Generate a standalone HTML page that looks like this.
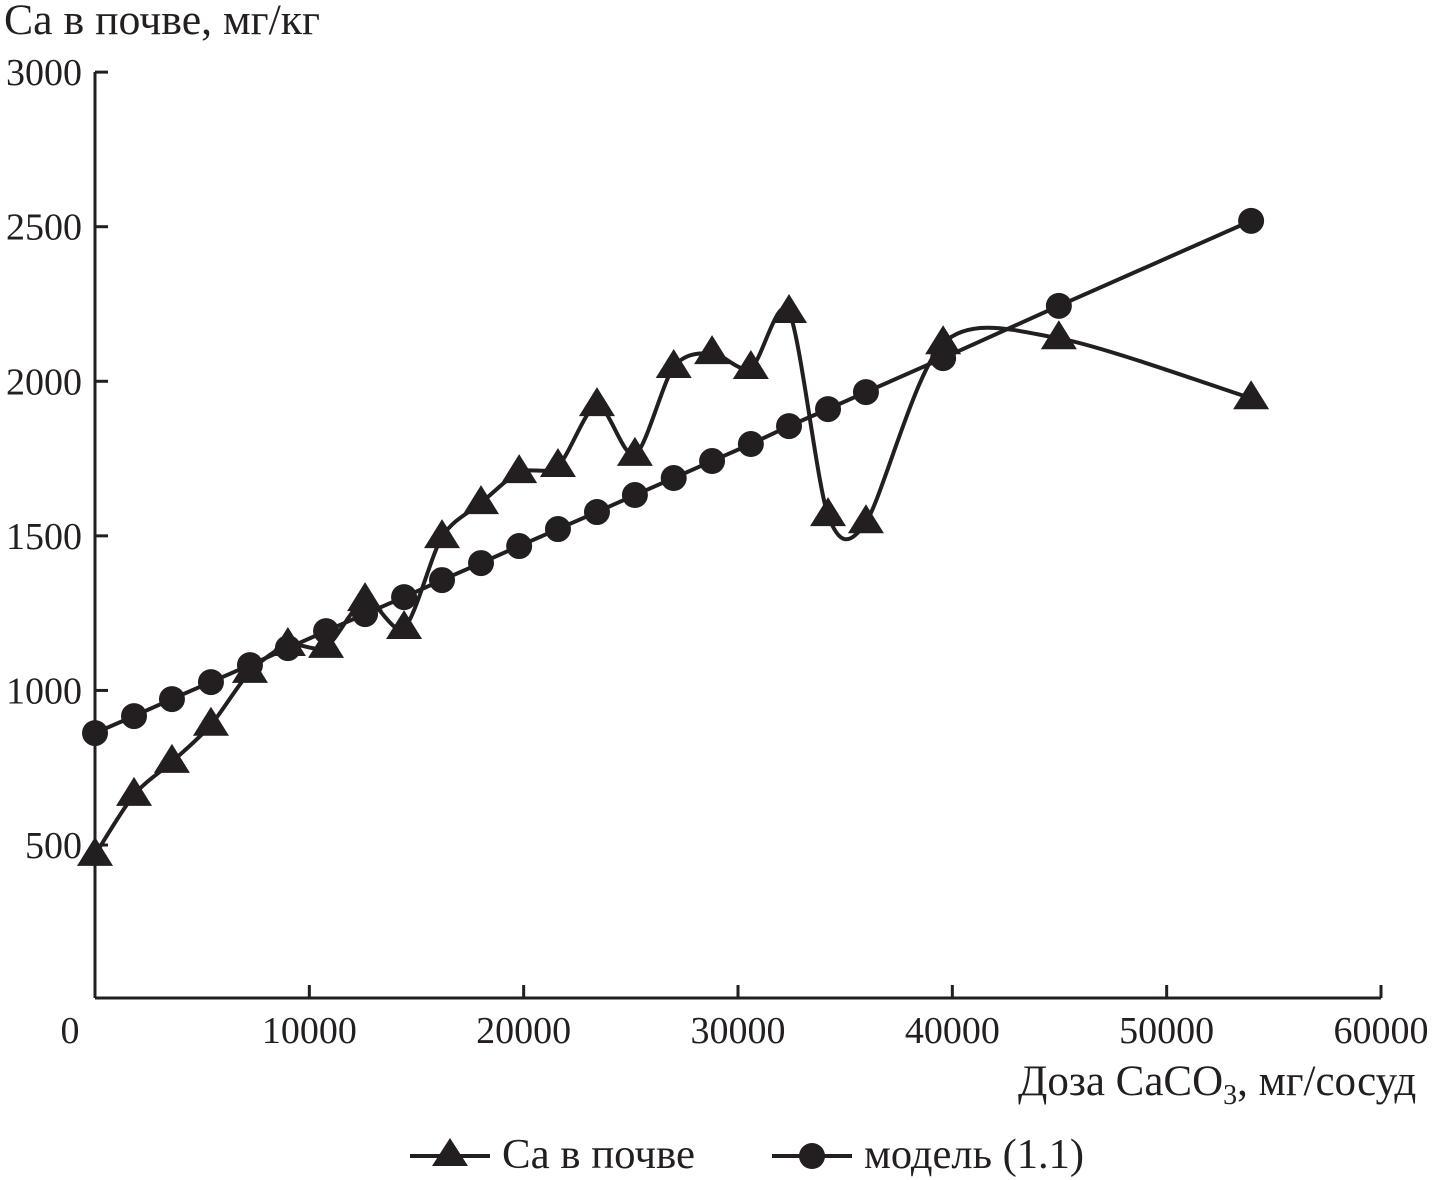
<!DOCTYPE html>
<html><head><meta charset="utf-8">
<style>
html,body{margin:0;padding:0;background:#fff;}
svg{display:block;}
text{font-family:"Liberation Serif","DejaVu Serif",serif;fill:#231f20;}
</style></head>
<body>
<svg id="chart" width="1433" height="1180" viewBox="0 0 1433 1180" xmlns="http://www.w3.org/2000/svg">
<g id="axes"></g>
<g id="series"></g>
<text x="4" y="34" font-size="43" textLength="316" lengthAdjust="spacingAndGlyphs">Ca в почве, мг/кг</text>
<text x="1018" y="1095" font-size="43">Доза CaCO<tspan font-size="28" dy="9">3</tspan><tspan dy="-9">, мг/сосуд</tspan></text>
<g>
<g>
<line x1="410" y1="1156" x2="490" y2="1156" stroke="#231f20" stroke-width="4"/>
<polygon points="450,1138 468,1166 432,1166" fill="#231f20"/>
<text x="502" y="1168" font-size="42" textLength="193" lengthAdjust="spacingAndGlyphs">Ca в почве</text>
</g>
<g>
<line x1="772" y1="1156" x2="852" y2="1156" stroke="#231f20" stroke-width="4"/>
<circle cx="812" cy="1156" r="13" fill="#231f20"/>
<text x="864" y="1168" font-size="42" textLength="220" lengthAdjust="spacingAndGlyphs">модель (1.1)</text>
</g>
</g>
</svg>
<script>
const xDose = [0,1820,3590,5410,7230,9000,10780,12600,14420,16190,18010,19790,21600,23420,25190,27000,28790,30600,32380,34200,35970,39570,44970,53940];
const caSoil = [468,662,769,889,1060,1147,1141,1292,1202,1496,1606,1706,1726,1923,1762,2046,2091,2043,2224,1567,1544,2123,2139,1945];
const model = [862,917,972,1027,1082,1137,1192,1247,1302,1357,1412,1467,1522,1577,1632,1687,1742,1797,1855,1910,1965,2075,2244,2519];
const xTicks = [0,10000,20000,30000,40000,50000,60000];
const yTicks = [500,1000,1500,2000,2500,3000];

const NS="http://www.w3.org/2000/svg";
const X0=95,X1=1381,Y0=999.6,YS=0.30916;
const sx=v=>X0+(X1-X0)*v/60000;
const sy=v=>Y0-v*YS;
function mk(tag,attrs,parent){const e=document.createElementNS(NS,tag);for(const k in attrs)e.setAttribute(k,attrs[k]);parent.appendChild(e);return e;}
const axes=document.getElementById('axes'), ser=document.getElementById('series');
let a=mk('line',{x1:X0,y1:72,x2:X0,y2:998,stroke:'#231f20','stroke-width':3},axes);


a=mk('line',{x1:X0,y1:998,x2:X1,y2:998,stroke:'#231f20','stroke-width':3},axes);


xTicks.forEach(t=>{
 const x=sx(t);
 const l=mk('line',{x1:x,y1:985,x2:x,y2:998,stroke:'#231f20','stroke-width':3},axes);
 
 
 const tx=mk('text',{x:t===0?x-25:x,y:1043,'font-size':38,'text-anchor':'middle'},axes);
 tx.textContent=t;
 
 
});
yTicks.forEach(t=>{
 const y=sy(t);
 const l=mk('line',{x1:X0,y1:y,x2:X0+13,y2:y,stroke:'#231f20','stroke-width':3},axes);
 
 
 const tx=mk('text',{x:82,y:y+13,'font-size':38,'text-anchor':'end'},axes);
 tx.textContent=t;
 
 
});
const pts=xDose.map((d,i)=>[sx(d),sy(caSoil[i])]);
let d=`M${pts[0][0]},${pts[0][1]}`;
for(let i=0;i<pts.length-1;i++){
 const p0=pts[Math.max(0,i-1)],p1=pts[i],p2=pts[i+1],p3=pts[Math.min(pts.length-1,i+2)];
 const c1=[p1[0]+(p2[0]-p0[0])/7,p1[1]+(p2[1]-p0[1])/7];
 const c2=[p2[0]-(p3[0]-p1[0])/7,p2[1]-(p3[1]-p1[1])/7];
 d+=` C${c1[0]},${c1[1]} ${c2[0]},${c2[1]} ${p2[0]},${p2[1]}`;
}
let p=mk('path',{d:d,fill:'none',stroke:'#231f20','stroke-width':4},ser);


p=mk('polyline',{points:xDose.map((v,i)=>sx(v)+','+sy(model[i])).join(' '),fill:'none',stroke:'#231f20','stroke-width':4},ser);


pts.forEach(([x,y])=>{
 const t=mk('polygon',{points:`${x},${y-18} ${x+18},${y+11} ${x-18},${y+11}`,fill:'#231f20'},ser);
 
 
});
xDose.forEach((v,i)=>{
 const c=mk('circle',{cx:sx(v),cy:sy(model[i]),r:13,fill:'#231f20'},ser);
 
 
});
</script>
</body></html>
